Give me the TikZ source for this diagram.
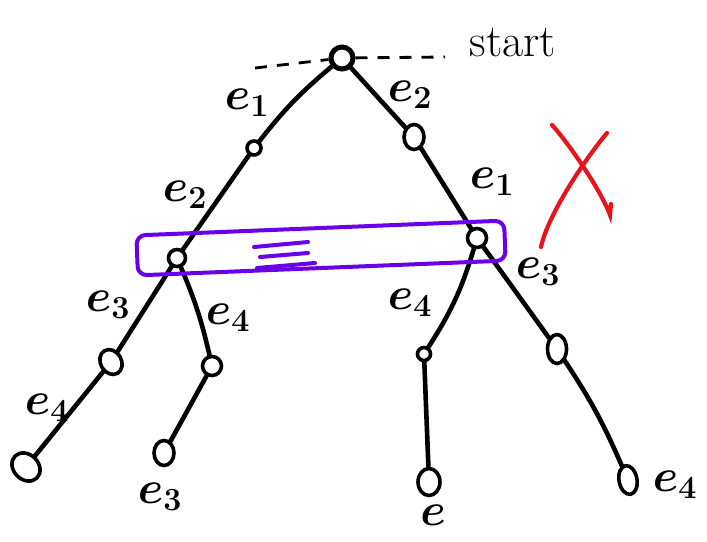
\RequirePackage{fix-cm}
\documentclass[tikz,border=0pt]{standalone}
\usetikzlibrary{shapes.geometric}
\definecolor{boxpurple}{RGB}{106,0,232}
\definecolor{crossred}{RGB}{232,20,28}

\begin{document}
\begin{tikzpicture}[x=1pt,y=-1pt,
    dot/.style={circle, draw, line width=3.6pt, inner sep=0pt, minimum size=15pt},
    oval/.style={ellipse, draw, line width=3.6pt, inner sep=0pt, minimum width=18pt, minimum height=25pt},
    edge/.style={line width=4.6pt, line cap=round},
    lbl/.style={font=\fontsize{46}{50}\selectfont\boldmath, inner sep=0pt}
]
\useasboundingbox (0,0) rectangle (707,541);
% vertices
\node[dot, minimum size=22pt, line width=5pt] (root) at (342,58) {};
\node[dot, minimum size=14pt] (l) at (254,148) {};
\node[oval, minimum width=20pt] (r) at (414,137) {};
\node[dot, minimum size=17pt] (ll) at (177,258) {};
\node[dot, minimum size=19pt] (rr) at (477,238) {};
\node[oval, minimum width=21pt, minimum height=26pt, rotate=30] (lla) at (111,362) {};
\node[dot, minimum size=19pt] (llb) at (212,366) {};
\node[oval, minimum width=25pt, minimum height=31pt, rotate=45] (llaa) at (26,467) {};
\node[oval, minimum width=20pt, minimum height=25pt] (llbb) at (164,453) {};
\node[dot, minimum size=13pt] (rra) at (424,354) {};
\node[oval, minimum width=19pt, minimum height=29pt] (rrb) at (557,349) {};
\node[oval, minimum width=22pt, minimum height=27pt] (rraa) at (429,482) {};
\node[oval, minimum width=18pt, minimum height=29pt, rotate=10] (rrbb) at (628,480) {};

% start line
\coordinate (sl) at (255,68);
\coordinate (sr) at (445,57);
\draw[line width=2.8pt, dash pattern=on 12pt off 10pt] (sl) -- (root) -- (sr);
\node[lbl] (start) at (513,43) {start};

% edges
\draw[edge] (root) to[bend right=6] (l);
\draw[edge] (root) -- (r);
\draw[edge] (l) -- (ll);
\draw[edge] (r) -- (rr);
\draw[edge] (ll) -- (lla);
\draw[edge] (ll) to[bend left=5] (llb);
\draw[edge] (lla) -- (llaa);
\draw[edge] (llb) -- (llbb);
\draw[edge] (rr) to[bend left=8] (rra);
\draw[edge] (rr) -- (rrb);
\draw[edge] (rra) -- (rraa);
\draw[edge] (rrb) to[bend left=5] (rrbb);

% edge labels
\node[lbl] (t1) at (247,103) {$e_1$};
\node[lbl] (t2) at (410,95) {$e_2$};
\node[lbl] (t3) at (185,195) {$e_2$};
\node[lbl] (t4) at (492,182) {$e_1$};
\node[lbl] (t5) at (108,305) {$e_3$};
\node[lbl] (t6) at (228,318) {$e_4$};
\node[lbl] (t7) at (410,303) {$e_4$};
\node[lbl] (t8) at (538,272) {$e_3$};
\node[lbl] (t9) at (47,408) {$e_4$};
\node[lbl] (t10) at (160,497) {$e_3$};
\node[lbl] (t11) at (433,515) {$e$};
\node[lbl] (t12) at (675,485) {$e_4$};

% equivalence box
\node[draw=boxpurple, line width=4pt, rounded corners=9pt, rotate=2.3,
      minimum width=368pt, minimum height=40pt] (eqbox) at (321,248) {};
\draw[boxpurple, line width=4pt, line cap=round]
    (254,247) -- (308,242)
    (260,257) -- (308,253)
    (257,268) -- (315,263);

% cross
\draw[crossred, line width=4.2pt, line cap=round]
    (552,125) .. controls (566,140) and (600,188) .. (610,215) -- (611,204)
    (607,133) .. controls (586,158) and (548,214) .. (541,247);
\end{tikzpicture}
\end{document}
